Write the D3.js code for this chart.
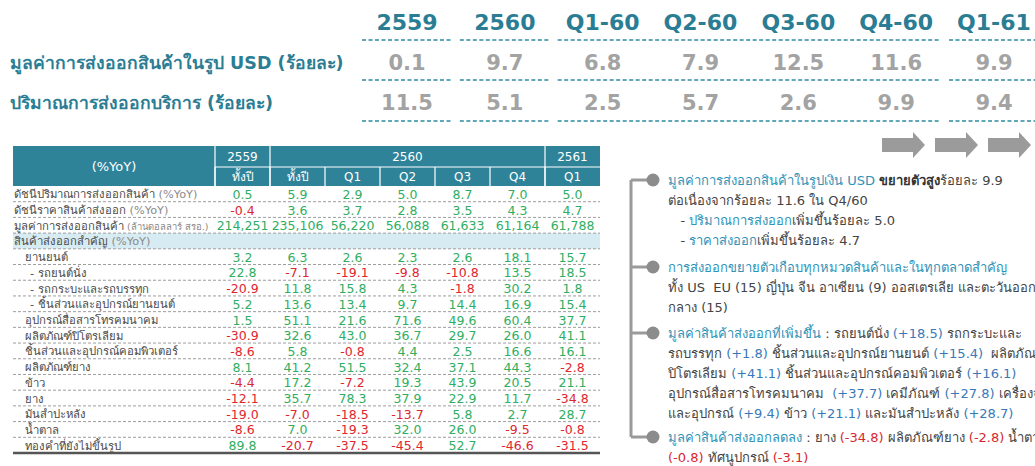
<!DOCTYPE html>
<html>
<head>
<meta charset="utf-8">
<script src="https://cdn.jsdelivr.net/npm/d3@7"></script>
<style>
  body { margin: 0; background: #fff; }
  svg { display: block; }
</style>
</head>
<body>
<div id="chart"></div>
<script>
// ---- top strip: export growth summary ----
var periods = ["2559", "2560", "Q1-60", "Q2-60", "Q3-60", "Q4-60", "Q1-61"];
var usdGrowth = [0.1, 9.7, 6.8, 7.9, 12.5, 11.6, 9.9];
var serviceGrowth = [11.5, 5.1, 2.5, 5.7, 2.6, 9.9, 9.4];
var summaryLabels = ["มูลค่าการส่งออกสินค้าในรูป USD (ร้อยละ)", "ปริมาณการส่งออกบริการ (ร้อยละ)"];
var periodGroups = [["2559", "2559"], ["2560", "2560"], ["Q1-60", "Q4-60"], ["Q1-61", "Q1-61"]];

// ---- table ----
var yearHeads = [{name: "2559", from: 0, to: 0}, {name: "2560", from: 1, to: 5}, {name: "2561", from: 6, to: 6}];
var colNames = ["ทั้งปี", "ทั้งปี", "Q1", "Q2", "Q3", "Q4", "Q1"];
var rowLabels = ["ดัชนีปริมาณการส่งออกสินค้า", "ดัชนีราคาสินค้าส่งออก", "มูลค่าการส่งออกสินค้า",
  "สินค้าส่งออกสำคัญ", "ยานยนต์", "- รถยนต์นั่ง", "- รถกระบะและรถบรรทุก", "- ชิ้นส่วนและอุปกรณ์ยานยนต์",
  "อุปกรณ์สื่อสารโทรคมนาคม", "ผลิตภัณฑ์ปิโตรเลียม", "ชิ้นส่วนและอุปกรณ์คอมพิวเตอร์", "ผลิตภัณฑ์ยาง",
  "ข้าว", "ยาง", "มันสำปะหลัง", "น้ำตาล", "ทองคำที่ยังไม่ขึ้นรูป"];
var rowNotes = [" (%YoY)", " (%YoY)", " (ล้านดอลลาร์ สรอ.)", " (%YoY)", "", "", "", "", "", "", "", "", "", "", "", "", ""];
var rowIndent = [0, 0, 0, 0, 1, 2, 2, 2, 1, 1, 1, 1, 1, 1, 1, 1, 1];

var v2559  = [0.5, -0.4, 214251, null, 3.2, 22.8, -20.9, 5.2, 1.5, -30.9, -8.6, 8.1, -4.4, -12.1, -19.0, -8.6, 89.8];
var v2560  = [5.9, 3.6, 235106, null, 6.3, -7.1, 11.8, 13.6, 51.1, 32.6, 5.8, 41.2, 17.2, 35.7, -7.0, 7.0, -20.7];
var vQ1_60 = [2.9, 3.7, 56220, null, 2.6, -19.1, 15.8, 13.4, 21.6, 43.0, -0.8, 51.5, -7.2, 78.3, -18.5, -19.3, -37.5];
var vQ2_60 = [5.0, 2.8, 56088, null, 2.3, -9.8, 4.3, 9.7, 71.6, 36.7, 4.4, 32.4, 19.3, 37.9, -13.7, 32.0, -45.4];
var vQ3_60 = [8.7, 3.5, 61633, null, 2.6, -10.8, -1.8, 14.4, 49.6, 29.7, 2.5, 37.1, 43.9, 22.9, 5.8, 26.0, 52.7];
var vQ4_60 = [7.0, 4.3, 61164, null, 18.1, 13.5, 30.2, 16.9, 60.4, 26.0, 16.6, 44.3, 20.5, 11.7, 2.7, -9.5, -46.6];
var vQ1_61 = [5.0, 4.7, 61788, null, 15.7, 18.5, 1.8, 15.4, 37.7, 41.1, 16.1, -2.8, 21.1, -34.8, 28.7, -0.8, -31.5];
var tableCols = [v2559, v2560, vQ1_60, vQ2_60, vQ3_60, vQ4_60, vQ1_61];

// ---- notes on the right (t = highlight, b = bold, r = red, v = blue number) ----
var notes = [
  [[["มูลค่าการส่งออกสินค้าในรูปเงิน USD ", "t"], ["ขยายตัวสูง", "b"], ["ร้อยละ 9.9", "n"]],
   [["ต่อเนื่องจากร้อยละ 11.6 ใน Q4/60", "n"]],
   [["   - ", "n"], ["ปริมาณการส่งออก", "t"], ["เพิ่มขึ้นร้อยละ 5.0", "n"]],
   [["   - ", "n"], ["ราคาส่งออก", "t"], ["เพิ่มขึ้นร้อยละ 4.7", "n"]]],
  [[["การส่งออกขยายตัวเกือบทุกหมวดสินค้าและในทุกตลาดสำคัญ", "t"]],
   [["ทั้ง US  EU (15) ญี่ปุ่น จีน อาเซียน (9) ออสเตรเลีย และตะวันออก", "n"]],
   [["กลาง (15)", "n"]]],
  [[["มูลค่าสินค้าส่งออกที่เพิ่มขึ้น", "t"], [" : รถยนต์นั่ง ", "n"], ["(+18.5)", "v"], [" รถกระบะและ", "n"]],
   [["รถบรรทุก ", "n"], ["(+1.8)", "v"], [" ชิ้นส่วนและอุปกรณ์ยานยนต์ ", "n"], ["(+15.4)", "v"], ["  ผลิตภัณฑ์", "n"]],
   [["ปิโตรเลียม ", "n"], ["(+41.1)", "v"], [" ชิ้นส่วนและอุปกรณ์คอมพิวเตอร์ ", "n"], ["(+16.1)", "v"]],
   [["อุปกรณ์สื่อสารโทรคมนาคม  ", "n"], ["(+37.7)", "v"], [" เคมีภัณฑ์ ", "n"], ["(+27.8)", "v"], [" เครื่องจักร", "n"]],
   [["และอุปกรณ์ ", "n"], ["(+9.4)", "v"], [" ข้าว ", "n"], ["(+21.1)", "v"], [" และมันสำปะหลัง ", "n"], ["(+28.7)", "v"]]],
  [[["มูลค่าสินค้าส่งออกลดลง", "t"], [" : ยาง ", "n"], ["(-34.8)", "r"], [" ผลิตภัณฑ์ยาง ", "n"], ["(-2.8)", "r"], [" น้ำตาล", "n"]],
   [["(-0.8)", "r"], [" ทัศนูปกรณ์ ", "n"], ["(-3.1)", "r"]]]
];

var W = 1035, H = 466;
var teal = "#2b7d93", headBg = "#2f8399", green = "#2fae62", red = "#e0262f";
var thai = "Tahoma, 'DejaVu Sans', 'Noto Sans', sans-serif";
var loc = d3.formatLocale({decimal: ".", thousands: ",", grouping: [3], currency: ["", ""], minus: "-"});
var f1 = loc.format(".1f"), fInt = loc.format(",");

var svg = d3.select("#chart").append("svg")
  .attr("width", W).attr("height", H)
  .style("font-family", thai);

// ===== top strip =====
var px = d3.scalePoint().domain(periods).range([407, 994]);
var topRows = [62, 102];

svg.selectAll("text.period")
  .data(periods).enter().append("text")
  .attr("class", "period")
  .attr("x", function(d) { return px(d); })
  .attr("y", 30)
  .attr("text-anchor", "middle")
  .attr("fill", teal)
  .style("font-size", "22px").style("font-weight", "bold")
  .style("font-family", "'DejaVu Sans', sans-serif")
  .text(function(d) { return d; });

[40, 80, 121].forEach(function(yy) {
  periodGroups.forEach(function(g) {
    svg.append("line")
      .attr("x1", px(g[0]) - 45).attr("x2", px(g[1]) + 45)
      .attr("y1", yy).attr("y2", yy)
      .attr("stroke", "#2f8aa0").attr("stroke-width", 1.5)
      .attr("stroke-dasharray", "4,2.5");
  });
});

summaryLabels.forEach(function(lbl, i) {
  svg.append("text")
    .attr("x", 10).attr("y", topRows[i] + 7)
    .attr("fill", teal)
    .style("font-size", "17.5px").style("font-weight", "bold")
    .text(lbl);
});

[usdGrowth, serviceGrowth].forEach(function(vals, i) {
  svg.selectAll("text.sv" + i)
    .data(vals).enter().append("text")
    .attr("class", "sv" + i)
    .attr("x", function(d, j) { return px(periods[j]); })
    .attr("y", topRows[i] + 8)
    .attr("text-anchor", "middle")
    .attr("fill", "#a3a3a3")
    .style("font-size", "21px").style("font-weight", "bold")
    .style("font-family", "'DejaVu Sans', sans-serif")
    .text(function(d) { return f1(d); });
});

// arrows
[882, 935, 988].forEach(function(ax) {
  svg.append("path")
    .attr("d", "M" + ax + ",138 h31 v-6 l12,13 l-12,13 v-6 h-31 z")
    .attr("fill", "#9b9b9b");
});

// ===== table =====
var tLeft = 13, tRight = 600, hTop = 146, hMid = 167, hBot = 186, tBot = 453;
var cx = d3.scaleBand().domain(d3.range(colNames.length)).range([215, tRight]);
var ry = d3.scaleBand().domain(d3.range(rowLabels.length)).range([hBot, tBot]);

svg.append("rect")
  .attr("x", tLeft).attr("y", hTop).attr("width", tRight - tLeft).attr("height", hBot - hTop)
  .attr("fill", headBg);

svg.append("text")
  .attr("x", (tLeft + 215) / 2).attr("y", (hTop + hBot) / 2 + 5)
  .attr("text-anchor", "middle").attr("fill", "#fff")
  .style("font-size", "13px")
  .text("(%YoY)");

svg.append("line")
  .attr("x1", 215).attr("x2", tRight).attr("y1", hMid).attr("y2", hMid)
  .attr("stroke", "#fff").attr("stroke-width", 1.2);

yearHeads.forEach(function(h) {
  var x0 = cx(h.from), x1 = cx(h.to) + cx.bandwidth();
  svg.append("line")
    .attr("x1", x0).attr("x2", x0).attr("y1", hTop).attr("y2", hBot)
    .attr("stroke", "#fff").attr("stroke-width", 1.2);
  svg.append("text")
    .attr("x", (x0 + x1) / 2).attr("y", hMid - 6)
    .attr("text-anchor", "middle").attr("fill", "#fff")
    .style("font-size", "12px")
    .text(h.name);
});

colNames.forEach(function(c, i) {
  svg.append("line")
    .attr("x1", cx(i)).attr("x2", cx(i)).attr("y1", hMid).attr("y2", hBot)
    .attr("stroke", "#fff").attr("stroke-width", 1.2);
  svg.append("text")
    .attr("x", cx(i) + cx.bandwidth() / 2).attr("y", hBot - 5)
    .attr("text-anchor", "middle").attr("fill", "#fff")
    .style("font-size", "12px")
    .text(c);
});

// section band
rowLabels.forEach(function(l, i) {
  if (tableCols[0][i] === null) {
    svg.append("rect")
      .attr("x", tLeft).attr("y", ry(i)).attr("width", tRight - tLeft).attr("height", ry.bandwidth())
      .attr("fill", "#d7ebf3");
  }
});

// row separators
svg.selectAll("line.rowsep")
  .data(d3.range(rowLabels.length - 1)).enter().append("line")
  .attr("class", "rowsep")
  .attr("x1", tLeft).attr("x2", tRight)
  .attr("y1", function(i) { return ry(i) + ry.bandwidth(); })
  .attr("y2", function(i) { return ry(i) + ry.bandwidth(); })
  .attr("stroke", "#9e9e9e").attr("stroke-width", 1)
  .attr("stroke-dasharray", "3,2");

// row labels
var indentX = [tLeft + 1, 25, 30];
rowLabels.forEach(function(l, i) {
  var t = svg.append("text")
    .attr("x", indentX[rowIndent[i]])
    .attr("y", ry(i) + ry.bandwidth() / 2 + 4.5)
    .attr("fill", "#4a4a4a")
    .style("font-size", "11.3px");
  t.append("tspan").text(l);
  if (rowNotes[i]) t.append("tspan").attr("fill", "#8a8a8a").style("font-size", i === 2 ? "9.5px" : "11.3px").text(rowNotes[i]);
});

// values
tableCols.forEach(function(col, c) {
  svg.selectAll("text.val" + c)
    .data(col).enter().append("text")
    .attr("class", "val" + c)
    .attr("x", cx(c) + cx.bandwidth() / 2)
    .attr("y", function(d, i) { return ry(i) + ry.bandwidth() / 2 + 5; })
    .attr("text-anchor", "middle")
    .attr("fill", function(d) { return d < 0 ? red : green; })
    .style("font-size", "12.5px")
    .text(function(d, i) { return d === null ? "" : (i === 2 ? fInt(d) : f1(d)); });
});

svg.append("line")
  .attr("x1", tLeft).attr("x2", tRight).attr("y1", tBot).attr("y2", tBot)
  .attr("stroke", "#555").attr("stroke-width", 2.5);

// ===== right notes =====
var bulletY = [180, 267, 333, 437];
var lineGap = 20;
var noteColor = {t: "#2f93b8", b: "#333", n: "#444", r: "#d9262e", v: "#3a78b8"};

svg.append("line")
  .attr("x1", 631).attr("x2", 631).attr("y1", bulletY[0]).attr("y2", bulletY[3])
  .attr("stroke", "#9a9a9a").attr("stroke-width", 3);

notes.forEach(function(block, b) {
  var by = bulletY[b];
  svg.append("line")
    .attr("x1", 631).attr("x2", 653).attr("y1", by).attr("y2", by)
    .attr("stroke", "#9a9a9a").attr("stroke-width", 3);
  svg.append("circle")
    .attr("cx", 653).attr("cy", by).attr("r", 6.5)
    .attr("fill", "#8c8c8c");
  block.forEach(function(line, k) {
    var t = svg.append("text")
      .attr("x", 668).attr("y", by + 5 + k * lineGap)
      .style("font-size", "13px")
      .attr("xml:space", "preserve")
      .style("white-space", "pre");
    line.forEach(function(seg) {
      t.append("tspan")
        .attr("fill", noteColor[seg[1]])
        .style("font-weight", seg[1] === "b" ? "bold" : "normal")
        .text(seg[0]);
    });
  });
});
</script>
</body>
</html>
